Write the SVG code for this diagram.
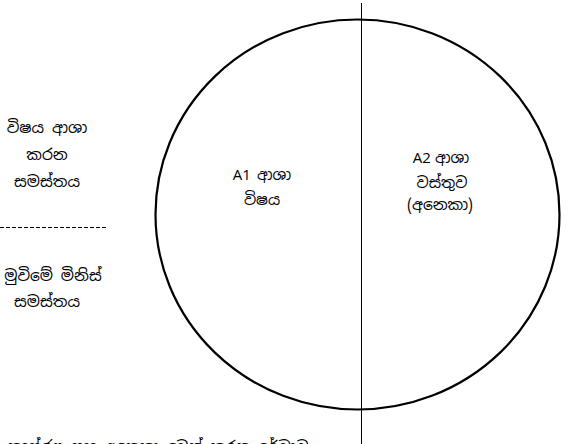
<svg xmlns="http://www.w3.org/2000/svg" width="579" height="444" viewBox="0 0 579 444">
<style>
.si{font-family:"Noto Sans Sinhala","Iskoola Pota","Noto Sans","DejaVu Sans",sans-serif;font-size:15.5px;fill:#000;text-anchor:middle}
.sm{font-size:15px}
.lat{font-family:"Open Sans","Liberation Sans",sans-serif;font-size:15px;fill:#000}
</style>
<rect width="579" height="444" fill="#fff"/>
<g id="connectors">
<ellipse id="circle" cx="357.5" cy="214.5" rx="202" ry="195" fill="none" stroke="#000" stroke-width="2.2"/>
<line id="divider" x1="361.5" y1="3" x2="361.5" y2="444" stroke="#000" stroke-width="1"/>
<line id="dash" x1="0" y1="227.5" x2="108" y2="227.5" stroke="#000" stroke-width="1" stroke-dasharray="4,2"/>
</g>
<g id="left-top">
<text class="si" x="47" y="133">විෂය ආශා</text>
<text class="si" x="47" y="160">කරන</text>
<text class="si" x="47" y="187">සමස්තය</text>
</g>
<g id="left-bottom">
<text class="si" x="53" y="281">මුවිමේ මිනිස්</text>
<text class="si" x="47" y="307">සමස්තය</text>
</g>
<g id="A1">
<text x="262" y="180" text-anchor="middle"><tspan class="lat">A1</tspan><tspan class="si sm" dx="6">ආශා</tspan></text>
<text class="si sm" x="262" y="205">විෂය</text>
</g>
<g id="A2">
<text x="441" y="163" text-anchor="middle"><tspan class="lat">A2</tspan><tspan class="si sm" dx="4">ආශා</tspan></text>
<text class="si sm" x="442" y="188">වස්තුව</text>
<text class="si" x="440" y="210">(අනෙකා)</text>
</g>
<g id="bottom">
<text class="si sm" x="8" y="452" style="text-anchor:start">තෘෂ්ණා සහ අනෙකා වෙන් කරන රේඛාව</text>
</g>
</svg>
